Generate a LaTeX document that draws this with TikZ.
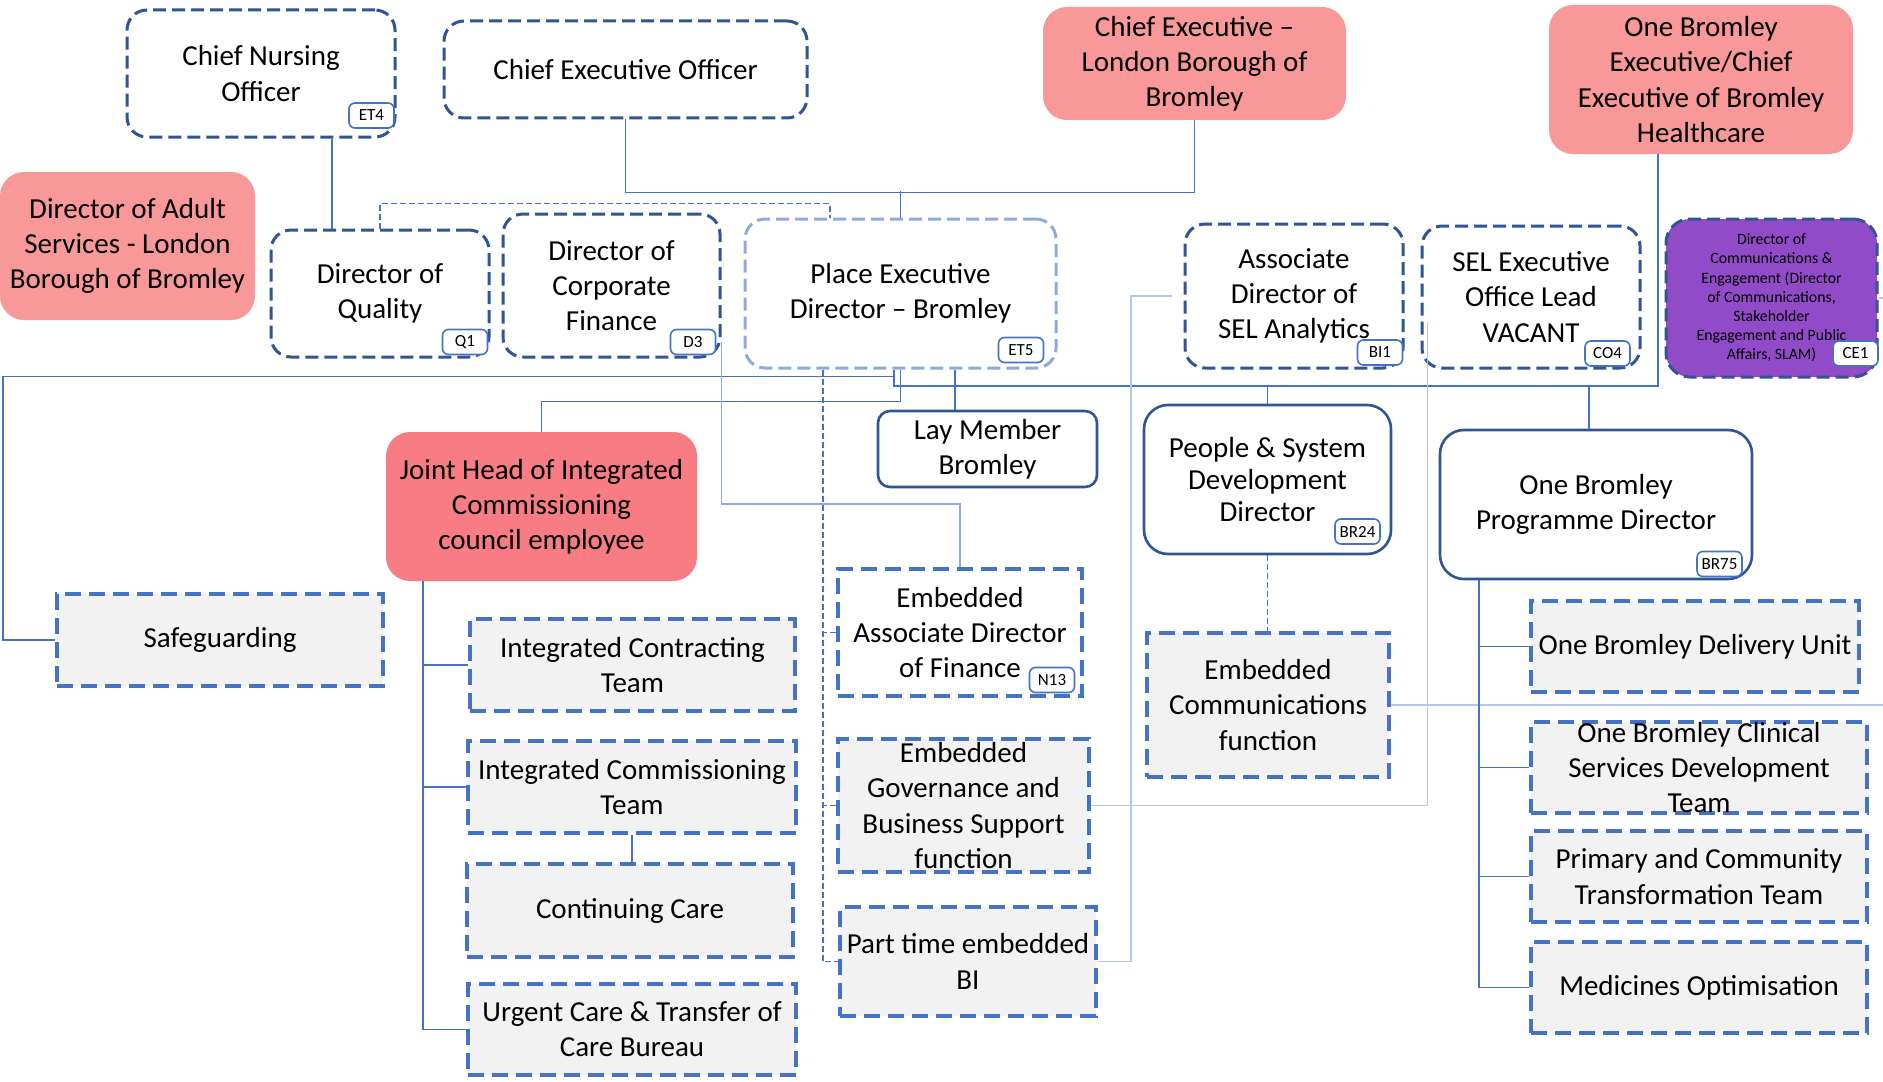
\documentclass[tikz,border=0pt]{standalone}
\usepackage{fontspec}
\setmainfont{Carlito}
\usetikzlibrary{calc}

\definecolor{darkblue}{HTML}{2F5597}
\definecolor{midblue}{HTML}{4472C4}
\definecolor{lightblue}{HTML}{8FAADC}
\definecolor{paleblue}{HTML}{B4C7E7}
\definecolor{greyfill}{HTML}{F2F2F2}
\definecolor{pinkfill}{HTML}{F99898}
\definecolor{redfill}{HTML}{F87C84}
\definecolor{purplefill}{HTML}{914BC8}

\newcommand{\boxfont}{\fontsize{14.5}{17.6}\selectfont}
\newcommand{\smallboxfont}{\fontsize{7.9}{9.6}\selectfont}
\newcommand{\tagfont}{\fontsize{8.5}{10}\selectfont}

\tikzset{
    dashbox/.style={draw=darkblue, line width=1.5pt, dash pattern=on 6.5pt off 3pt, rounded corners=10pt, fill=white, align=center, font=\boxfont},
    lightbox/.style={draw=lightblue, line width=1.5pt, dash pattern=on 6.5pt off 3pt, rounded corners=10pt, fill=white, align=center, font=\boxfont},
    solidbox/.style={draw=darkblue, line width=1.3pt, rounded corners=12pt, fill=white, align=center, font=\boxfont},
    pinkbox/.style={fill=pinkfill, rounded corners=12pt, align=center, font=\boxfont},
    greybox/.style={draw=midblue, line width=2pt, dash pattern=on 8pt off 4pt, fill=greyfill, align=center, inner ysep=0pt, font=\boxfont},
    tagbox/.style={draw=midblue, line width=0.8pt, rounded corners=3pt, fill=white, minimum width=22.5pt, minimum height=12.5pt, inner sep=1pt, font=\tagfont},
    conn/.style={draw=midblue, line width=0.75pt},
    lconn/.style={draw=paleblue, line width=0.75pt},
    dconn/.style={draw=midblue, line width=0.6pt, dash pattern=on 3pt off 1.5pt}
}

\begin{document}
\begin{tikzpicture}[x=0.5pt,y=-0.5pt]
        % Page
        \fill[white] (0,0) rectangle (1883,1081);
        \useasboundingbox (0,0) rectangle (1883,1081);

        % Top row
        \node[dashbox, minimum width=134pt, minimum height=63.5pt] (CNO) at (261,73.5) {Chief Nursing\\Officer};
        \node[dashbox, minimum width=181.5pt, minimum height=48.5pt] (CEO) at (625.5,69.5) {Chief Executive Officer};
        \node[pinkbox, minimum width=151.5pt, minimum height=56.5pt] (CELBB) at (1194.5,63.5) {Chief Executive --\\London Borough of\\Bromley};
        \node[pinkbox, minimum width=152pt, minimum height=74.5pt] (OBE) at (1701,79.5) {One Bromley\\Executive/Chief\\Executive of Bromley\\Healthcare};

        % Directors row
        \node[pinkbox, minimum width=127.5pt, minimum height=74pt] (DAS) at (127.5,246) {Director of Adult\\Services - London\\Borough of Bromley};
        \node[dashbox, minimum width=109pt, minimum height=63.5pt] (DQ) at (380,293.5) {Director of\\Quality};
        \node[dashbox, minimum width=108.5pt, minimum height=71.5pt] (DCF) at (611.5,285.5) {Director of\\Corporate\\Finance};
        \node[lightbox, minimum width=155.5pt, minimum height=74.5pt] (PED) at (900.5,293.5) {Place Executive\\Director – Bromley};
        \node[dashbox, minimum width=109pt, minimum height=72pt] (ADSA) at (1294,296) {Associate\\Director of\\SEL Analytics};
        \node[dashbox, minimum width=109pt, minimum height=71pt] (SEL) at (1531,297) {SEL Executive\\Office Lead\\VACANT};
        \node[dashbox, fill=purplefill, rounded corners=12pt, minimum width=105.5pt, minimum height=79pt, font=\smallboxfont] (DoC) at (1771.5,298) {Director of\\Communications \&\\Engagement (Director\\of Communications,\\Stakeholder\\Engagement and Public\\Affairs, SLAM)};

        % Second row
        \node[pinkbox, fill=redfill, minimum width=155.5pt, minimum height=74.5pt] (JH) at (541.5,506.5) {Joint Head of Integrated\\Commissioning\\council employee};
        \node[solidbox, rounded corners=6pt, minimum width=109.5pt, minimum height=38pt] (LMB) at (987.5,449) {Lay Member\\Bromley};
        \node[solidbox, minimum width=123.5pt, minimum height=74.5pt, font=\fontsize{14.5}{16}\selectfont] (PSD) at (1267.5,479.5) {People \& System\\Development\\Director};
        \node[solidbox, minimum width=156pt, minimum height=74.5pt] (OBPD) at (1596,504.5) {One Bromley\\Programme Director};

        % Teams
        \node[greybox, minimum width=163pt, minimum height=46pt] (SG) at (220,640) {Safeguarding};
        \node[greybox, minimum width=162.5pt, minimum height=46pt] (ICT) at (632.5,665) {Integrated Contracting\\Team};
        \node[greybox, minimum width=164pt, minimum height=46pt] (ICMT) at (632,787) {Integrated Commissioning\\Team};
        \node[greybox, minimum width=163pt, minimum height=46.5pt] (CC) at (630,910.5) {Continuing Care};
        \node[greybox, minimum width=164pt, minimum height=45.5pt] (UC) at (632,1029.5) {Urgent Care \& Transfer of\\Care Bureau};
        \node[greybox, fill=white, minimum width=122pt, minimum height=63.5pt] (EADF) at (960,632.5) {Embedded\\Associate Director\\of Finance};
        \node[greybox, minimum width=125.5pt, minimum height=66.5pt] (EGBS) at (963.5,805.5) {Embedded\\Governance and\\Business Support\\function};
        \node[greybox, minimum width=126pt, minimum height=54.5pt] (PTBI) at (968,961.5) {Part time embedded\\BI};
        \node[greybox, minimum width=121pt, minimum height=72pt] (ECF) at (1268,705) {Embedded\\Communications\\function};
        \node[greybox, minimum width=164pt, minimum height=45.5pt] (OBDU) at (1695,646.5) {One Bromley Delivery Unit};
        \node[greybox, minimum width=168pt, minimum height=45.5pt] (OBCS) at (1699,767.5) {One Bromley Clinical\\Services Development\\Team};
        \node[greybox, minimum width=168pt, minimum height=45.5pt] (PCTT) at (1699,876.5) {Primary and Community\\Transformation Team};
        \node[greybox, minimum width=168pt, minimum height=45.5pt] (MO) at (1699,987.5) {Medicines Optimisation};

        % Post codes
        \node[tagbox] (et4) at (371.5,115.5) {ET4};
        \node[tagbox] (q1) at (465,342) {Q1};
        \node[tagbox] (d3) at (693,342) {D3};
        \node[tagbox] (et5) at (1021,350) {ET5};
        \node[tagbox] (bi1) at (1380,352.5) {BI1};
        \node[tagbox] (co4) at (1607.5,353.5) {CO4};
        \node[tagbox] (ce1) at (1855.5,353.5) {CE1};
        \node[tagbox] (n13) at (1052,680) {N13};
        \node[tagbox] (br24) at (1357.5,531.5) {BR24};
        \node[tagbox] (br75) at (1719.5,564) {BR75};

        % Helper points
        \coordinate (topbus) at (0,191);
        \coordinate (midbus) at (0,386);
        \coordinate (edgeR) at (1883,0);
        \coordinate (dtrunk) at ([xshift=-38.75pt]PED.south);
        \coordinate (jhtrunk) at ([xshift=-59.25pt]JH.south);
        \coordinate (obtrunk) at ([xshift=-58.5pt]OBPD.south);

        % Top level links
        \draw[conn] ([xshift=35.5pt]CNO.south) -- ([xshift=35.5pt]CNO.south |- DQ.north);
        \draw[dconn] (DQ.north) -- ++(0,-25) -| ([xshift=-35.25pt]PED.north);
        \draw[conn] (CEO.south) -- ++(0,73) -| (CELBB.south);
        \draw[conn] (PED.north) -- (PED.north |- topbus);

        % Place Executive links
        \draw[conn] ([xshift=-3.25pt]PED.south) |- ([xshift=-21.5pt]OBE.south |- midbus) -- ([xshift=-21.5pt]OBE.south);
        \draw[conn] ([xshift=-3.25pt,yshift=-3.5pt]PED.south) -| ([xshift=-26pt]SG.west) -- (SG.west);
        \draw[conn] (PED.south) -- ++(0,32) -| (JH.north);
        \draw[conn] ([xshift=-16.25pt]LMB.north) -- ([xshift=-16.25pt]LMB.north |- PED.south);
        \draw[conn] (PSD.north) -- (PSD.north |- midbus);
        \draw[conn] ([xshift=-3.5pt]OBPD.north) -- ([xshift=-3.5pt]OBPD.north |- midbus);

        % Embedded functions
        \draw[dconn] (dtrunk) |- (PTBI.west);
        \draw[dconn] (EADF.west) -- (EADF.west -| dtrunk);
        \draw[dconn] (EGBS.west) -- (EGBS.west -| dtrunk);
        \draw[conn, draw=lightblue] ([yshift=-28.25pt]DCF.east) -- ++(0,162) -| (EADF.north);
        \draw[lconn] (PTBI.east) -- ++(33,0) |- ([xshift=-6pt]ADSA.west);
        \draw[lconn] (EGBS.east) -| ([xshift=3.5pt,yshift=-12.5pt]SEL.west);
        \draw[lconn] (ECF.east) -- (ECF.east -| edgeR);
        \draw[lconn] (DoC.east) -- (DoC.east -| edgeR);
        \draw[dconn] (PSD.south) -- (PSD.south |- ECF.north);

        % Joint Head teams
        \draw[conn] (jhtrunk) |- (UC.west);
        \draw[conn] (ICT.west) -- (ICT.west -| jhtrunk);
        \draw[conn] (ICMT.west) -- (ICMT.west -| jhtrunk);
        \draw[conn] (ICMT.south) -- (ICMT.south |- CC.north);

        % One Bromley teams
        \draw[conn] (obtrunk) |- (MO.west);
        \draw[conn] (OBDU.west) -- (OBDU.west -| obtrunk);
        \draw[conn] (OBCS.west) -- (OBCS.west -| obtrunk);
        \draw[conn] (PCTT.west) -- (PCTT.west -| obtrunk);
\end{tikzpicture}
\end{document}
